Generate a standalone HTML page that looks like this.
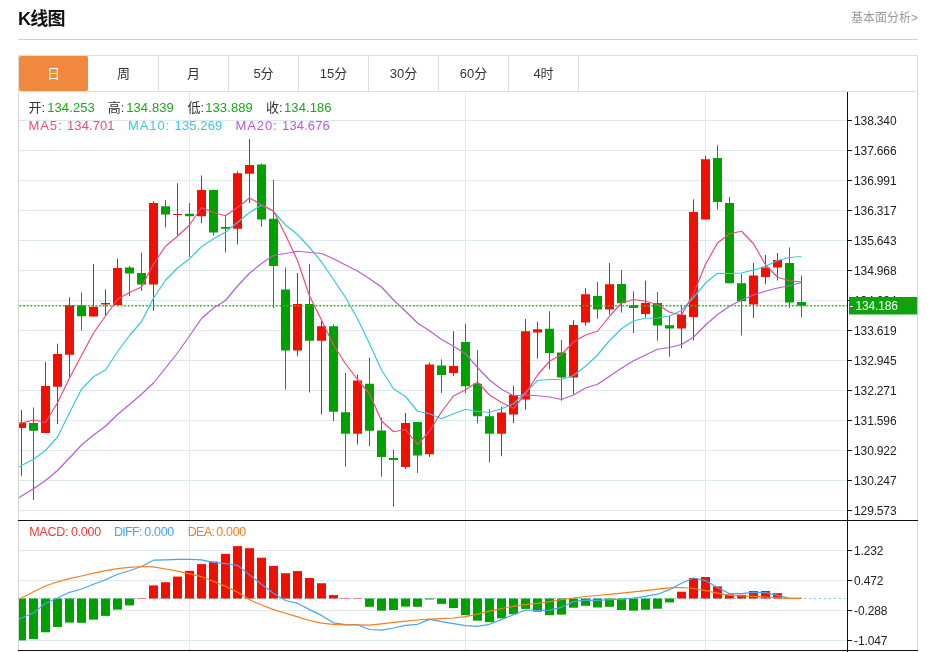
<!DOCTYPE html>
<html lang="zh-CN"><head><meta charset="utf-8"><title>K线图</title>
<style>
html,body{margin:0;padding:0;background:#fff;}
body{width:930px;height:652px;position:relative;overflow:hidden;font-family:"Liberation Sans","Noto Sans CJK SC",sans-serif;color:#333;}
.title{position:absolute;left:18px;top:8px;font-size:18px;font-weight:bold;line-height:22px;color:#111;letter-spacing:-0.7px;}
.more{position:absolute;right:12px;top:9px;font-size:12px;line-height:18px;color:#999;}
.hr{position:absolute;left:18px;top:39px;width:900px;height:1px;background:#d2d2d2;}
.tabs{position:absolute;left:18px;top:55px;width:898px;height:35px;border:1px solid #dedede;display:flex;}
.tab{width:69px;height:35px;line-height:35px;text-align:center;font-size:13px;border-right:1px solid #dedede;color:#333;}
.tab.on{background:#f0883e;color:#fff;border-right:1px solid #fff;border-radius:2px;}
.row{position:absolute;left:28px;white-space:nowrap;}
.r1{top:100px;font-size:13px;line-height:16px;}
.r1 i{font-style:normal;position:absolute;top:0;}
.r1 b{font-weight:normal;color:#1aa71a;position:absolute;top:0;letter-spacing:0.1px;}
.r2{top:118px;font-size:13px;line-height:16px;letter-spacing:0.1px;}
.r2 span{position:absolute;top:0;}
.r2 u{text-decoration:none;letter-spacing:0.9px;}
.r3{top:524px;font-size:12.5px;line-height:16px;}
.r3 span{position:absolute;top:0;}
</style></head><body>
<div class="title">K线图</div>
<div class="more">基本面分析&gt;</div>
<div class="hr"></div>
<div class="tabs"><div class="tab on">日</div><div class="tab">周</div><div class="tab">月</div><div class="tab">5分</div><div class="tab">15分</div><div class="tab">30分</div><div class="tab">60分</div><div class="tab">4时</div></div>
<svg width="930" height="652" viewBox="0 0 930 652" style="position:absolute;left:0;top:0">
<defs><clipPath id="cp"><rect x="19" y="92" width="828" height="560"/></clipPath></defs>
<g stroke="#dde9f0" stroke-width="1" shape-rendering="crispEdges">
<line x1="19" y1="120.5" x2="847" y2="120.5"/>
<line x1="19" y1="150.5" x2="847" y2="150.5"/>
<line x1="19" y1="180.5" x2="847" y2="180.5"/>
<line x1="19" y1="210.5" x2="847" y2="210.5"/>
<line x1="19" y1="240.5" x2="847" y2="240.5"/>
<line x1="19" y1="270.5" x2="847" y2="270.5"/>
<line x1="19" y1="300.5" x2="847" y2="300.5"/>
<line x1="19" y1="330.5" x2="847" y2="330.5"/>
<line x1="19" y1="360.5" x2="847" y2="360.5"/>
<line x1="19" y1="390.5" x2="847" y2="390.5"/>
<line x1="19" y1="420.5" x2="847" y2="420.5"/>
<line x1="19" y1="450.5" x2="847" y2="450.5"/>
<line x1="19" y1="480.5" x2="847" y2="480.5"/>
<line x1="19" y1="510.5" x2="847" y2="510.5"/>
<line x1="19" y1="550.5" x2="847" y2="550.5"/>
<line x1="19" y1="580.5" x2="847" y2="580.5"/>
<line x1="19" y1="610.5" x2="847" y2="610.5"/>
<line x1="19" y1="640.5" x2="847" y2="640.5"/>
<line x1="189.5" y1="92" x2="189.5" y2="520"/>
<line x1="189.5" y1="521" x2="189.5" y2="650"/>
<line x1="465.5" y1="92" x2="465.5" y2="520"/>
<line x1="465.5" y1="521" x2="465.5" y2="650"/>
<line x1="705.5" y1="92" x2="705.5" y2="520"/>
<line x1="705.5" y1="521" x2="705.5" y2="650"/>
</g>
<g shape-rendering="crispEdges">
<line x1="18.5" y1="92" x2="18.5" y2="652" stroke="#d4d4d4"/>
<line x1="917.5" y1="92" x2="917.5" y2="652" stroke="#d8d8d8"/>
<line x1="18" y1="520.5" x2="918" y2="520.5" stroke="#111"/>
<line x1="18" y1="650.5" x2="918" y2="650.5" stroke="#111"/>
<line x1="847.5" y1="92" x2="847.5" y2="652" stroke="#111"/>
<g stroke="#111">
<line x1="848" y1="120.5" x2="852" y2="120.5"/>
<line x1="848" y1="150.5" x2="852" y2="150.5"/>
<line x1="848" y1="180.5" x2="852" y2="180.5"/>
<line x1="848" y1="210.5" x2="852" y2="210.5"/>
<line x1="848" y1="240.5" x2="852" y2="240.5"/>
<line x1="848" y1="270.5" x2="852" y2="270.5"/>
<line x1="848" y1="300.5" x2="852" y2="300.5"/>
<line x1="848" y1="330.5" x2="852" y2="330.5"/>
<line x1="848" y1="360.5" x2="852" y2="360.5"/>
<line x1="848" y1="390.5" x2="852" y2="390.5"/>
<line x1="848" y1="420.5" x2="852" y2="420.5"/>
<line x1="848" y1="450.5" x2="852" y2="450.5"/>
<line x1="848" y1="480.5" x2="852" y2="480.5"/>
<line x1="848" y1="510.5" x2="852" y2="510.5"/>
<line x1="848" y1="550.5" x2="852" y2="550.5"/>
<line x1="848" y1="580.5" x2="852" y2="580.5"/>
<line x1="848" y1="610.5" x2="852" y2="610.5"/>
<line x1="848" y1="640.5" x2="852" y2="640.5"/>
</g></g>
<line x1="19" y1="598.5" x2="845" y2="598.5" stroke="#7cc8f2" stroke-width="1.2" stroke-dasharray="2 3"/>
<g clip-path="url(#cp)">
<line x1="21.5" y1="410" x2="21.5" y2="475.75" stroke="#ee1100" stroke-width="1"/>
<rect x="17" y="422.5" width="9" height="5.5" fill="#ee1100"/>
<line x1="33.5" y1="407.5" x2="33.5" y2="500" stroke="#00a000" stroke-width="1"/>
<rect x="29" y="423" width="9" height="7.75" fill="#00a000"/>
<line x1="45.5" y1="361.75" x2="45.5" y2="433" stroke="#ee1100" stroke-width="1"/>
<rect x="41" y="386" width="9" height="47" fill="#ee1100"/>
<line x1="57.5" y1="343.75" x2="57.5" y2="424" stroke="#ee1100" stroke-width="1"/>
<rect x="53" y="354" width="9" height="32.75" fill="#ee1100"/>
<line x1="69.5" y1="297.25" x2="69.5" y2="377.5" stroke="#ee1100" stroke-width="1"/>
<rect x="65" y="305.1" width="9" height="49.65" fill="#ee1100"/>
<line x1="81.5" y1="292.5" x2="81.5" y2="330.5" stroke="#00a000" stroke-width="1"/>
<rect x="77" y="305.1" width="9" height="11.15" fill="#00a000"/>
<line x1="93.5" y1="264" x2="93.5" y2="316.5" stroke="#ee1100" stroke-width="1"/>
<rect x="89" y="306.75" width="9" height="9.75" fill="#ee1100"/>
<line x1="105.5" y1="289.25" x2="105.5" y2="315.5" stroke="#ee1100" stroke-width="1"/>
<rect x="101" y="303" width="9" height="1.5" fill="#ee1100"/>
<line x1="117.5" y1="258.5" x2="117.5" y2="306" stroke="#ee1100" stroke-width="1"/>
<rect x="113" y="268" width="9" height="37" fill="#ee1100"/>
<line x1="129.5" y1="266" x2="129.5" y2="296.25" stroke="#00a000" stroke-width="1"/>
<rect x="125" y="267.5" width="9" height="6" fill="#00a000"/>
<line x1="141.5" y1="252.5" x2="141.5" y2="291" stroke="#00a000" stroke-width="1"/>
<rect x="137" y="273" width="9" height="11.5" fill="#00a000"/>
<line x1="153.5" y1="201.25" x2="153.5" y2="310.5" stroke="#ee1100" stroke-width="1"/>
<rect x="149" y="203" width="9" height="81.5" fill="#ee1100"/>
<line x1="165.5" y1="200" x2="165.5" y2="227.5" stroke="#00a000" stroke-width="1"/>
<rect x="161" y="206.25" width="9" height="8.25" fill="#00a000"/>
<line x1="177.5" y1="183.25" x2="177.5" y2="235.75" stroke="#ee1100" stroke-width="1"/>
<rect x="173" y="214" width="9" height="1" fill="#ee1100"/>
<line x1="189.5" y1="203" x2="189.5" y2="257" stroke="#00a000" stroke-width="1"/>
<rect x="185" y="213.75" width="9" height="2.5" fill="#00a000"/>
<line x1="201.5" y1="175.5" x2="201.5" y2="223" stroke="#ee1100" stroke-width="1"/>
<rect x="197" y="190" width="9" height="26.25" fill="#ee1100"/>
<line x1="213.5" y1="189.5" x2="213.5" y2="235.5" stroke="#00a000" stroke-width="1"/>
<rect x="209" y="190" width="9" height="42.5" fill="#00a000"/>
<line x1="225.5" y1="216.25" x2="225.5" y2="252.5" stroke="#00a000" stroke-width="1"/>
<rect x="221" y="227" width="9" height="1.75" fill="#00a000"/>
<line x1="237.5" y1="171.25" x2="237.5" y2="244.5" stroke="#ee1100" stroke-width="1"/>
<rect x="233" y="173.25" width="9" height="55.5" fill="#ee1100"/>
<line x1="249.5" y1="139" x2="249.5" y2="203" stroke="#ee1100" stroke-width="1"/>
<rect x="245" y="165" width="9" height="8.75" fill="#ee1100"/>
<line x1="261.5" y1="163.5" x2="261.5" y2="226.75" stroke="#00a000" stroke-width="1"/>
<rect x="257" y="164.5" width="9" height="55" fill="#00a000"/>
<line x1="273.5" y1="180" x2="273.5" y2="308" stroke="#00a000" stroke-width="1"/>
<rect x="269" y="218.75" width="9" height="47.25" fill="#00a000"/>
<line x1="285.5" y1="267.5" x2="285.5" y2="389.5" stroke="#00a000" stroke-width="1"/>
<rect x="281" y="289.5" width="9" height="61" fill="#00a000"/>
<line x1="297.5" y1="273" x2="297.5" y2="356.25" stroke="#ee1100" stroke-width="1"/>
<rect x="293" y="304" width="9" height="46.5" fill="#ee1100"/>
<line x1="309.5" y1="263.75" x2="309.5" y2="392.5" stroke="#00a000" stroke-width="1"/>
<rect x="305" y="304" width="9" height="36.75" fill="#00a000"/>
<line x1="321.5" y1="320.5" x2="321.5" y2="414.5" stroke="#ee1100" stroke-width="1"/>
<rect x="317" y="326.25" width="9" height="14.5" fill="#ee1100"/>
<line x1="333.5" y1="324.5" x2="333.5" y2="421.25" stroke="#00a000" stroke-width="1"/>
<rect x="329" y="326.25" width="9" height="85.5" fill="#00a000"/>
<line x1="345.5" y1="373" x2="345.5" y2="466.75" stroke="#00a000" stroke-width="1"/>
<rect x="341" y="412.25" width="9" height="21.5" fill="#00a000"/>
<line x1="357.5" y1="374.5" x2="357.5" y2="444.5" stroke="#ee1100" stroke-width="1"/>
<rect x="353" y="380.5" width="9" height="53.25" fill="#ee1100"/>
<line x1="369.5" y1="357.5" x2="369.5" y2="446.25" stroke="#00a000" stroke-width="1"/>
<rect x="365" y="383.75" width="9" height="47" fill="#00a000"/>
<line x1="381.5" y1="417.5" x2="381.5" y2="476.75" stroke="#00a000" stroke-width="1"/>
<rect x="377" y="430.5" width="9" height="26.5" fill="#00a000"/>
<line x1="393.5" y1="449.5" x2="393.5" y2="506.75" stroke="#00a000" stroke-width="1"/>
<rect x="389" y="458" width="9" height="2" fill="#00a000"/>
<line x1="405.5" y1="413" x2="405.5" y2="468.75" stroke="#ee1100" stroke-width="1"/>
<rect x="401" y="423" width="9" height="44" fill="#ee1100"/>
<line x1="417.5" y1="422" x2="417.5" y2="473" stroke="#00a000" stroke-width="1"/>
<rect x="413" y="422" width="9" height="33.5" fill="#00a000"/>
<line x1="429.5" y1="362.5" x2="429.5" y2="457" stroke="#ee1100" stroke-width="1"/>
<rect x="425" y="364.5" width="9" height="89.75" fill="#ee1100"/>
<line x1="441.5" y1="359.25" x2="441.5" y2="393" stroke="#00a000" stroke-width="1"/>
<rect x="437" y="365.5" width="9" height="9.5" fill="#00a000"/>
<line x1="453.5" y1="331.25" x2="453.5" y2="376.25" stroke="#ee1100" stroke-width="1"/>
<rect x="449" y="366" width="9" height="7" fill="#ee1100"/>
<line x1="465.5" y1="324" x2="465.5" y2="393" stroke="#00a000" stroke-width="1"/>
<rect x="461" y="342" width="9" height="44.25" fill="#00a000"/>
<line x1="477.5" y1="350" x2="477.5" y2="423.25" stroke="#00a000" stroke-width="1"/>
<rect x="473" y="383.75" width="9" height="32.5" fill="#00a000"/>
<line x1="489.5" y1="409.25" x2="489.5" y2="462.5" stroke="#00a000" stroke-width="1"/>
<rect x="485" y="416.25" width="9" height="17.5" fill="#00a000"/>
<line x1="501.5" y1="406.75" x2="501.5" y2="456.25" stroke="#ee1100" stroke-width="1"/>
<rect x="497" y="412.5" width="9" height="21.25" fill="#ee1100"/>
<line x1="513.5" y1="385.5" x2="513.5" y2="423" stroke="#ee1100" stroke-width="1"/>
<rect x="509" y="395" width="9" height="19.5" fill="#ee1100"/>
<line x1="525.5" y1="319" x2="525.5" y2="409.5" stroke="#ee1100" stroke-width="1"/>
<rect x="521" y="331.25" width="9" height="68.25" fill="#ee1100"/>
<line x1="537.5" y1="321.75" x2="537.5" y2="358.75" stroke="#ee1100" stroke-width="1"/>
<rect x="533" y="329.25" width="9" height="3.25" fill="#ee1100"/>
<line x1="549.5" y1="311.25" x2="549.5" y2="369.25" stroke="#00a000" stroke-width="1"/>
<rect x="545" y="328.75" width="9" height="24.25" fill="#00a000"/>
<line x1="561.5" y1="340" x2="561.5" y2="400.75" stroke="#00a000" stroke-width="1"/>
<rect x="557" y="352.5" width="9" height="25" fill="#00a000"/>
<line x1="573.5" y1="320.25" x2="573.5" y2="394.25" stroke="#ee1100" stroke-width="1"/>
<rect x="569" y="325" width="9" height="52.5" fill="#ee1100"/>
<line x1="585.5" y1="288.25" x2="585.5" y2="325.75" stroke="#ee1100" stroke-width="1"/>
<rect x="581" y="294.25" width="9" height="28.25" fill="#ee1100"/>
<line x1="597.5" y1="282" x2="597.5" y2="318.75" stroke="#00a000" stroke-width="1"/>
<rect x="593" y="296" width="9" height="13.5" fill="#00a000"/>
<line x1="609.5" y1="263" x2="609.5" y2="314.5" stroke="#ee1100" stroke-width="1"/>
<rect x="605" y="284.25" width="9" height="25.25" fill="#ee1100"/>
<line x1="621.5" y1="270" x2="621.5" y2="312.5" stroke="#00a000" stroke-width="1"/>
<rect x="617" y="284" width="9" height="19.25" fill="#00a000"/>
<line x1="633.5" y1="291.25" x2="633.5" y2="333" stroke="#00a000" stroke-width="1"/>
<rect x="629" y="305" width="9" height="3" fill="#00a000"/>
<line x1="645.5" y1="280.75" x2="645.5" y2="317.5" stroke="#ee1100" stroke-width="1"/>
<rect x="641" y="303" width="9" height="11" fill="#ee1100"/>
<line x1="657.5" y1="292" x2="657.5" y2="340.75" stroke="#00a000" stroke-width="1"/>
<rect x="653" y="303" width="9" height="22.5" fill="#00a000"/>
<line x1="669.5" y1="315.5" x2="669.5" y2="356.75" stroke="#00a000" stroke-width="1"/>
<rect x="665" y="325.25" width="9" height="3.25" fill="#00a000"/>
<line x1="681.5" y1="304.75" x2="681.5" y2="348.25" stroke="#ee1100" stroke-width="1"/>
<rect x="677" y="314.75" width="9" height="13.75" fill="#ee1100"/>
<line x1="693.5" y1="199.25" x2="693.5" y2="340.5" stroke="#ee1100" stroke-width="1"/>
<rect x="689" y="212" width="9" height="105" fill="#ee1100"/>
<line x1="705.5" y1="155.75" x2="705.5" y2="219.5" stroke="#ee1100" stroke-width="1"/>
<rect x="701" y="159.25" width="9" height="60.25" fill="#ee1100"/>
<line x1="717.5" y1="145" x2="717.5" y2="209.5" stroke="#00a000" stroke-width="1"/>
<rect x="713" y="158" width="9" height="44" fill="#00a000"/>
<line x1="729.5" y1="197" x2="729.5" y2="283.25" stroke="#00a000" stroke-width="1"/>
<rect x="725" y="203" width="9" height="80.25" fill="#00a000"/>
<line x1="741.5" y1="273.75" x2="741.5" y2="335.5" stroke="#00a000" stroke-width="1"/>
<rect x="737" y="283.25" width="9" height="18" fill="#00a000"/>
<line x1="753.5" y1="263" x2="753.5" y2="318" stroke="#ee1100" stroke-width="1"/>
<rect x="749" y="275.5" width="9" height="29" fill="#ee1100"/>
<line x1="765.5" y1="255" x2="765.5" y2="284.25" stroke="#ee1100" stroke-width="1"/>
<rect x="761" y="267.5" width="9" height="9.5" fill="#ee1100"/>
<line x1="777.5" y1="253" x2="777.5" y2="280.5" stroke="#ee1100" stroke-width="1"/>
<rect x="773" y="260" width="9" height="7.5" fill="#ee1100"/>
<line x1="789.5" y1="247.5" x2="789.5" y2="308" stroke="#00a000" stroke-width="1"/>
<rect x="785" y="263" width="9" height="39.5" fill="#00a000"/>
<line x1="801.5" y1="275.5" x2="801.5" y2="317.5" stroke="#00a000" stroke-width="1"/>
<rect x="797" y="302" width="9" height="3.75" fill="#00a000"/>
<rect x="17" y="598.5" width="9" height="41.9" fill="#00a000"/>
<rect x="29" y="598.5" width="9" height="40.5" fill="#00a000"/>
<rect x="41" y="598.5" width="9" height="33.8" fill="#00a000"/>
<rect x="53" y="598.5" width="9" height="28.5" fill="#00a000"/>
<rect x="65" y="598.5" width="9" height="24.1" fill="#00a000"/>
<rect x="77" y="598.5" width="9" height="24.3" fill="#00a000"/>
<rect x="89" y="598.5" width="9" height="21.1" fill="#00a000"/>
<rect x="101" y="598.5" width="9" height="17.4" fill="#00a000"/>
<rect x="113" y="598.5" width="9" height="11.1" fill="#00a000"/>
<rect x="125" y="598.5" width="9" height="6.9" fill="#00a000"/>
<rect x="137" y="598" width="9" height="1" fill="#f08080"/>
<rect x="149" y="585.4" width="9" height="13.1" fill="#ee1100"/>
<rect x="161" y="582.2" width="9" height="16.3" fill="#ee1100"/>
<rect x="173" y="576.6" width="9" height="21.9" fill="#ee1100"/>
<rect x="185" y="570.9" width="9" height="27.6" fill="#ee1100"/>
<rect x="197" y="564.1" width="9" height="34.4" fill="#ee1100"/>
<rect x="209" y="561.6" width="9" height="36.9" fill="#ee1100"/>
<rect x="221" y="553.9" width="9" height="44.6" fill="#ee1100"/>
<rect x="233" y="546.1" width="9" height="52.4" fill="#ee1100"/>
<rect x="245" y="548.2" width="9" height="50.3" fill="#ee1100"/>
<rect x="257" y="557.7" width="9" height="40.8" fill="#ee1100"/>
<rect x="269" y="565.9" width="9" height="32.6" fill="#ee1100"/>
<rect x="281" y="573.2" width="9" height="25.3" fill="#ee1100"/>
<rect x="293" y="571.1" width="9" height="27.4" fill="#ee1100"/>
<rect x="305" y="578" width="9" height="20.5" fill="#ee1100"/>
<rect x="317" y="583.3" width="9" height="15.2" fill="#ee1100"/>
<rect x="329" y="595.1" width="9" height="3.4" fill="#ee1100"/>
<rect x="341" y="598" width="9" height="1" fill="#f08080"/>
<rect x="353" y="598" width="9" height="1" fill="#f08080"/>
<rect x="365" y="598.5" width="9" height="8.3" fill="#00a000"/>
<rect x="377" y="598.5" width="9" height="12.1" fill="#00a000"/>
<rect x="389" y="598.5" width="9" height="11.5" fill="#00a000"/>
<rect x="401" y="598.5" width="9" height="8.1" fill="#00a000"/>
<rect x="413" y="598.5" width="9" height="8.3" fill="#00a000"/>
<rect x="425" y="598.5" width="9" height="1" fill="#00a000"/>
<rect x="437" y="598.5" width="9" height="5.4" fill="#00a000"/>
<rect x="449" y="598.5" width="9" height="9.6" fill="#00a000"/>
<rect x="461" y="598.5" width="9" height="16.7" fill="#00a000"/>
<rect x="473" y="598.5" width="9" height="22.2" fill="#00a000"/>
<rect x="485" y="598.5" width="9" height="23.7" fill="#00a000"/>
<rect x="497" y="598.5" width="9" height="19.9" fill="#00a000"/>
<rect x="509" y="598.5" width="9" height="15.7" fill="#00a000"/>
<rect x="521" y="598.5" width="9" height="10.4" fill="#00a000"/>
<rect x="533" y="598.5" width="9" height="13.2" fill="#00a000"/>
<rect x="545" y="598.5" width="9" height="16.7" fill="#00a000"/>
<rect x="557" y="598.5" width="9" height="16.1" fill="#00a000"/>
<rect x="569" y="598.5" width="9" height="9.2" fill="#00a000"/>
<rect x="581" y="598.5" width="9" height="7.3" fill="#00a000"/>
<rect x="593" y="598.5" width="9" height="9" fill="#00a000"/>
<rect x="605" y="598.5" width="9" height="8.3" fill="#00a000"/>
<rect x="617" y="598.5" width="9" height="11.5" fill="#00a000"/>
<rect x="629" y="598.5" width="9" height="12.1" fill="#00a000"/>
<rect x="641" y="598.5" width="9" height="11.3" fill="#00a000"/>
<rect x="653" y="598.5" width="9" height="10.2" fill="#00a000"/>
<rect x="665" y="598.5" width="9" height="3.9" fill="#00a000"/>
<rect x="677" y="591.7" width="9" height="6.8" fill="#ee1100"/>
<rect x="689" y="578" width="9" height="20.5" fill="#ee1100"/>
<rect x="701" y="577" width="9" height="21.5" fill="#ee1100"/>
<rect x="713" y="586.4" width="9" height="12.1" fill="#ee1100"/>
<rect x="725" y="594.4" width="9" height="4.1" fill="#ee1100"/>
<rect x="737" y="594.8" width="9" height="3.7" fill="#ee1100"/>
<rect x="749" y="591" width="9" height="7.5" fill="#ee1100"/>
<rect x="761" y="591" width="9" height="7.5" fill="#ee1100"/>
<rect x="773" y="593.2" width="9" height="5.3" fill="#ee1100"/>
<line x1="19.5" y1="305.7" x2="847" y2="305.7" stroke="#2fb52f" stroke-width="1.5" stroke-dasharray="1.9 1.71"/>
<polyline fill="none" stroke="#b45fd2" stroke-width="1.2" stroke-linejoin="round" points="18,498.25 21.5,496 33.5,488.75 45.5,480.5 57.5,470.5 69.5,458 81.5,445 93.5,435 105.5,426.25 117.5,414.5 129.5,404.5 141.5,394.25 153.5,383 165.5,368 177.5,353 189.5,336 201.5,318.5 213.5,308 225.5,300.5 237.5,286 249.5,273.25 261.5,263.5 273.5,255.5 285.5,253.5 297.5,251.25 309.5,252.5 321.5,253.5 333.5,258.75 345.5,265 357.5,271 369.5,278.75 381.5,287 393.5,300 405.5,311.25 417.5,323 429.5,330.75 441.5,339.5 453.5,346.25 465.5,353.75 477.5,367.5 489.5,380 501.5,389.25 513.5,395.75 525.5,395 537.5,395.75 549.5,397 561.5,399.5 573.5,395 585.5,388 597.5,384.25 609.5,376.25 621.5,368.25 633.5,360.75 645.5,355 657.5,349.25 669.5,347.5 681.5,344.5 693.5,337.25 705.5,325 717.5,314.5 729.5,306.25 741.5,300 753.5,295 765.5,291.25 777.5,288 789.5,285.75 801.5,282.5"/>
<polyline fill="none" stroke="#3cc6e0" stroke-width="1.2" stroke-linejoin="round" points="18,467.5 21.5,465.5 33.5,459.25 45.5,450.5 57.5,437 69.5,412.75 81.5,389.25 93.5,376.75 105.5,370 117.5,351.75 129.5,335.5 141.5,321.75 153.5,298 165.5,280.25 177.5,268 189.5,258.75 201.5,246.75 213.5,238.75 225.5,232 237.5,222.5 249.5,212.5 261.5,205 273.5,211.5 285.5,225 297.5,234.5 309.5,247.5 321.5,262 333.5,279.5 345.5,297.5 357.5,318.75 369.5,343.75 381.5,370 393.5,388.75 405.5,396.5 417.5,411.25 429.5,413.75 441.5,418.75 453.5,413.75 465.5,409.25 477.5,411.5 489.5,412.5 501.5,408.75 513.5,403.75 525.5,392.5 537.5,380.5 549.5,379.5 561.5,379.5 573.5,375.5 585.5,366.25 597.5,355 609.5,340.5 621.5,328.75 633.5,320.75 645.5,318.25 657.5,318 669.5,316 681.5,310.5 693.5,297.5 705.5,283 717.5,273.25 729.5,273.5 741.5,273 753.5,270 765.5,266.25 777.5,260.5 789.5,257.5 801.5,256.5"/>
<polyline fill="none" stroke="#ee4b7e" stroke-width="1.2" stroke-linejoin="round" points="18,423.75 21.5,423 33.5,420 45.5,422.5 57.5,402.75 69.5,378 81.5,355.5 93.5,333 105.5,316 117.5,299.25 129.5,292.5 141.5,287 153.5,264 165.5,246.25 177.5,236.25 189.5,225 201.5,207.5 213.5,212.5 225.5,215.75 237.5,207.5 249.5,198 261.5,204.75 273.5,211 285.5,235 297.5,260.5 309.5,296 321.5,320 333.5,345 345.5,363.75 357.5,379.5 369.5,393.75 381.5,421 393.5,431.75 405.5,429.5 417.5,444.5 429.5,431.25 441.5,411.75 453.5,396 465.5,389.75 477.5,382 489.5,395 501.5,402.5 513.5,408.25 525.5,393.75 537.5,375 549.5,361.25 561.5,354.5 573.5,342 585.5,335 597.5,331.25 609.5,316.25 621.5,303 633.5,299.5 645.5,301.25 657.5,304.5 669.5,312.25 681.5,315 693.5,293.75 705.5,264.25 717.5,243 729.5,233.75 741.5,231.25 753.5,243.75 765.5,264.75 777.5,277.25 789.5,280.75 801.5,282"/>
<polyline fill="none" stroke="#4aa3ec" stroke-width="1.2" stroke-linejoin="round" points="18,619.4 21.5,618 33.5,612.7 45.5,603.3 57.5,598 69.5,592.3 81.5,589 93.5,584.3 105.5,579.7 117.5,574.3 129.5,570.7 141.5,566.5 153.5,560.2 165.5,559.8 177.5,559.3 189.5,559.3 201.5,559.8 213.5,562.3 225.5,563.7 237.5,565.4 249.5,574.9 261.5,584.3 273.5,593.2 285.5,600.5 297.5,603.3 309.5,609.6 321.5,615.4 333.5,622.8 345.5,624.7 357.5,624.7 369.5,629.5 381.5,630.2 393.5,628 405.5,625.3 417.5,624.3 429.5,619.4 441.5,621.7 453.5,623.6 465.5,625.7 477.5,626.4 489.5,624.3 501.5,619.6 513.5,614.8 525.5,610 537.5,610.6 549.5,610.2 561.5,607.3 573.5,601.6 585.5,600.1 597.5,600.3 609.5,599.7 621.5,599.3 633.5,598 645.5,596.3 657.5,594.2 669.5,589.6 681.5,583.3 693.5,578 705.5,580.6 717.5,587.5 729.5,593.6 741.5,593.6 753.5,592.3 765.5,592.7 777.5,595.3 789.5,598.4 801.5,598.4"/>
<polyline fill="none" stroke="#f77e1e" stroke-width="1.2" stroke-linejoin="round" points="18,599 21.5,598 33.5,591.7 45.5,586 57.5,581.8 69.5,578.7 81.5,576 93.5,573.2 105.5,570.7 117.5,568.6 129.5,567.3 141.5,566.5 153.5,566.9 165.5,569 177.5,571.1 189.5,573.8 201.5,576.7 213.5,581.2 225.5,586.4 237.5,592.1 249.5,599.7 261.5,605 273.5,609.6 285.5,613.3 297.5,616.9 309.5,620.5 321.5,623.2 333.5,624.3 345.5,624.9 357.5,624.9 369.5,625.2 381.5,623.9 393.5,622.4 405.5,621.1 417.5,620 429.5,619.2 441.5,618.6 453.5,618 465.5,616.7 477.5,614.2 489.5,611.2 501.5,608.5 513.5,606.4 525.5,604.7 537.5,603.3 549.5,601.6 561.5,599.7 573.5,598 585.5,596.5 597.5,595.5 609.5,594.4 621.5,593.2 633.5,591.9 645.5,590.6 657.5,589.2 669.5,587.9 681.5,587.5 693.5,588.5 705.5,590.6 717.5,593.2 729.5,595.3 741.5,595.9 753.5,596.3 765.5,597 777.5,597.8 789.5,598.4 801.5,598.4"/>
</g>
<g font-family="'Liberation Sans', sans-serif" font-size="12" fill="#222" letter-spacing="-0.15">
<text x="854.1" y="124.6">138.340</text>
<text x="854.1" y="154.6">137.666</text>
<text x="854.1" y="184.6">136.991</text>
<text x="854.1" y="214.6">136.317</text>
<text x="854.1" y="244.6">135.643</text>
<text x="854.1" y="274.6">134.968</text>
<text x="854.1" y="304.6">134.294</text>
<text x="854.1" y="334.6">133.619</text>
<text x="854.1" y="364.6">132.945</text>
<text x="854.1" y="394.6">132.271</text>
<text x="854.1" y="424.6">131.596</text>
<text x="854.1" y="454.6">130.922</text>
<text x="854.1" y="484.6">130.247</text>
<text x="854.1" y="514.6">129.573</text>
<text x="854.1" y="554.6">1.232</text>
<text x="854.1" y="584.6">0.472</text>
<text x="854.1" y="614.6">-0.288</text>
<text x="854.1" y="644.6">-1.047</text>
<rect x="849" y="297" width="68.2" height="17.5" fill="#0ea30e"/>
<line x1="849.5" y1="306" x2="852.5" y2="306" stroke="#fff" shape-rendering="crispEdges"/>
<text x="855.4" y="309.9" fill="#fff" font-size="12">134.186</text>
</g>
</svg>
<div class="row r1" style="left:0"><i style="left:28.5px">开:</i><b style="left:47.2px">134.253</b><i style="left:107.7px">高:</i><b style="left:126.2px">134.839</b><i style="left:187.4px">低:</i><b style="left:205.2px">133.889</b><i style="left:266px">收:</i><b style="left:284px">134.186</b></div>
<div class="row r2" style="left:0"><span style="left:28.5px;color:#ee4b7e"><u>MA5: </u>134.701</span><span style="left:128px;color:#3cc6e0"><u>MA10: </u>135.269</span><span style="left:235.5px;color:#b45fd2"><u>MA20: </u>134.676</span></div>
<div class="row r3" style="left:0"><span style="left:29.2px;color:#ee3a3a;letter-spacing:-0.25px">MACD:</span><span style="left:71px;color:#ee3a3a;letter-spacing:-0.3px">0.000</span><span style="left:114px;color:#4aa3ec;letter-spacing:-0.75px">DIFF:</span><span style="left:144.2px;color:#4aa3ec;letter-spacing:-0.3px">0.000</span><span style="left:187.7px;color:#f77e1e;letter-spacing:-0.6px">DEA:</span><span style="left:216.2px;color:#f77e1e;letter-spacing:-0.3px">0.000</span></div>
</body></html>
